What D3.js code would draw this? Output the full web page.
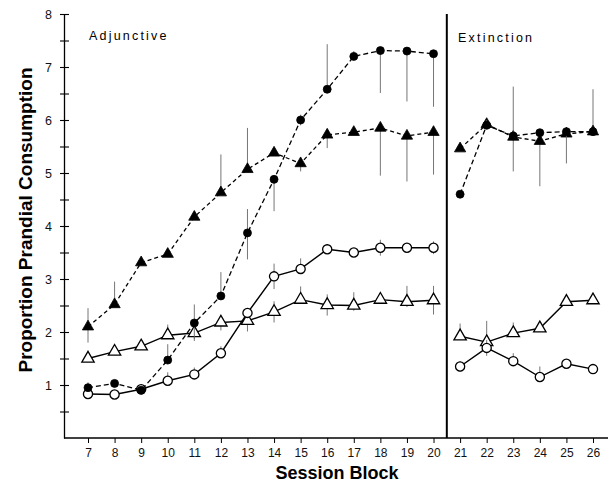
<!DOCTYPE html>
<html>
<head>
<meta charset="utf-8">
<script src="https://cdn.jsdelivr.net/npm/d3@7"></script>
<style>
  body { margin: 0; background: #fff; }
  svg { font-family: "Liberation Sans", Arial, sans-serif; }
</style>
</head>
<body>
<div class="chart"></div>
<script>
// session blocks; 7-20 adjunctive, 21-26 extinction
const blocks = [7, 8, 9, 10, 11, 12, 13, 14, 15, 16, 17, 18, 19, 20, 21, 22, 23, 24, 25, 26];
const lastAdjunctive = 20;

// filled circles (dashed)
const filledCircle = [0.95, 1.03, 0.9, 1.47, 2.17, 2.68, 3.87, 4.88, 6.0, 6.58, 7.2, 7.31, 7.3, 7.25,
                      4.6, 5.9, 5.7, 5.76, 5.78, 5.78];
const filledCircleUp = [0.1, 0.05, 0, 0.3, 0.35, 0.45, 0.45, 0, 0.1, 0.85, 0.1, 0, 0, 0,
                        0, 0.1, 0.93, 0, 0, 0];
const filledCircleDown = [0.05, 0, 0, 0, 0.3, 0, 0.5, 0.6, 0.1, 0, 0, 0.8, 0.95, 1.0,
                          0, 0, 0, 0, 0.6, 0];

// filled triangles (dashed)
const filledTriangle = [2.1, 2.52, 3.31, 3.47, 4.17, 4.63, 5.07, 5.38, 5.18, 5.72, 5.77, 5.85, 5.7, 5.77,
                        5.46, 5.92, 5.68, 5.6, 5.74, 5.78];
const filledTriangleUp = [0.35, 0.43, 0, 0.1, 0, 0.72, 0.78, 0, 0, 0, 0, 0, 0, 0,
                          0, 0.1, 0, 0, 0, 0.8];
const filledTriangleDown = [0.3, 0, 0, 0, 0, 0, 0, 0, 0.15, 0.25, 0, 0.9, 0.86, 0.8,
                            0, 0, 0.65, 0.85, 0, 0];

// open circles (solid)
const openCircle = [0.83, 0.82, 0.92, 1.08, 1.2, 1.6, 2.36, 3.05, 3.19, 3.56, 3.5, 3.59, 3.59, 3.59,
                    1.35, 1.7, 1.45, 1.15, 1.4, 1.3];
const openCircleUp = [0.07, 0.05, 0.05, 0.16, 0.13, 0.13, 0.05, 0.24, 0.2, 0.1, 0.05, 0.15, 0.05, 0.12,
                      0.1, 0.15, 0.15, 0.2, 0, 0];
const openCircleDown = [0.07, 0.05, 0.05, 0.05, 0, 0, 0, 0.24, 0, 0, 0, 0.15, 0, 0.12,
                        0.1, 0.15, 0, 0, 0, 0];

// open triangles (solid)
const openTriangle = [1.5, 1.63, 1.73, 1.94, 1.98, 2.18, 2.21, 2.38, 2.61, 2.51, 2.5, 2.61, 2.57, 2.6,
                      1.92, 1.81, 1.98, 2.07, 2.57, 2.6];
const openTriangleUp = [0.05, 0, 0, 0.2, 0, 0, 0, 0.2, 0.25, 0.2, 0.25, 0.1, 0.3, 0.27,
                        0.24, 0.4, 0.2, 0, 0, 0];
const openTriangleDown = [0.05, 0, 0, 0, 0.15, 0.15, 0.2, 0.2, 0, 0.2, 0.1, 0, 0.1, 0.27,
                          0, 0, 0, 0, 0, 0];

const yMajor = [1, 2, 3, 4, 5, 6, 7, 8];
const yMinor = [0.5, 1.5, 2.5, 3.5, 4.5, 5.5, 6.5, 7.5];

const width = 611, height = 483;

const svg = d3.select(".chart").append("svg")
    .attr("width", width)
    .attr("height", height);

const x = d3.scaleLinear().domain([7, 26]).range([88, 593]);
const y = d3.scaleLinear().domain([0, 8]).range([438, 14]);

// y axis, ticks cross the axis line
const yAxis = svg.append("g")
    .attr("transform", "translate(64,0)")
    .call(d3.axisLeft(y)
        .tickValues(yMajor.concat(yMinor))
        .tickSize(4)
        .tickSizeOuter(0)
        .tickPadding(8)
        .tickFormat(d => Number.isInteger(d) ? d : ""));
yAxis.selectAll(".tick line").attr("x2", -4).attr("x1", 5).attr("stroke-width", 1.1);
yAxis.select(".domain").attr("stroke-width", 1.3);
yAxis.selectAll("text").attr("font-size", 12.5).attr("fill", "#111");

// x axis
const xAxis = svg.append("g")
    .attr("transform", "translate(0," + y(0) + ")")
    .call(d3.axisBottom(x).tickValues(blocks).tickSize(5).tickPadding(5));
xAxis.select(".domain").remove();
xAxis.append("line")
    .attr("x1", 64).attr("x2", 608)
    .attr("stroke", "#000").attr("stroke-width", 1.3);
xAxis.selectAll("text").attr("font-size", 12).attr("fill", "#111");

// divider between phases
svg.append("line")
    .attr("x1", x(20.5)).attr("x2", x(20.5))
    .attr("y1", y(8)).attr("y2", y(0))
    .attr("stroke", "#000")
    .attr("stroke-width", 2);

svg.append("text")
    .attr("x", 89).attr("y", 40)
    .attr("font-size", 12.5)
    .attr("letter-spacing", 2.2)
    .text("Adjunctive");

svg.append("text")
    .attr("x", 458).attr("y", 42)
    .attr("font-size", 12.5)
    .attr("letter-spacing", 2.2)
    .text("Extinction");

svg.append("text")
    .attr("transform", "translate(32,220) rotate(-90)")
    .attr("text-anchor", "middle")
    .attr("font-size", 19)
    .attr("font-weight", "bold")
    .text("Proportion Prandial Consumption");

svg.append("text")
    .attr("x", 337).attr("y", 479)
    .attr("text-anchor", "middle")
    .attr("font-size", 18)
    .attr("font-weight", "bold")
    .text("Session Block");

const series = [
    {values: openTriangle, up: openTriangleUp, down: openTriangleDown, symbol: d3.symbolTriangle, size: 66, filled: false, dash: null},
    {values: openCircle, up: openCircleUp, down: openCircleDown, symbol: d3.symbolCircle, size: 66, filled: false, dash: null},
    {values: filledTriangle, up: filledTriangleUp, down: filledTriangleDown, symbol: d3.symbolTriangle, size: 55, filled: true, dash: "4,3"},
    {values: filledCircle, up: filledCircleUp, down: filledCircleDown, symbol: d3.symbolCircle, size: 50, filled: true, dash: "5,3"}
];

const line = d3.line()
    .x(d => x(d.block))
    .y(d => y(d.value));

series.forEach(s => {
    const pts = blocks.map((b, i) => ({block: b, value: s.values[i], up: s.up[i], down: s.down[i]}));
    const g = svg.append("g");

    // error bars
    g.selectAll("errbar")
        .data(pts.filter(d => d.up > 0 || d.down > 0))
        .enter()
        .append("line")
        .attr("x1", d => x(d.block))
        .attr("x2", d => x(d.block))
        .attr("y1", d => y(d.value + d.up))
        .attr("y2", d => y(d.value - d.down))
        .attr("stroke", "#666")
        .attr("stroke-width", 0.9);

    // one line per phase
    [pts.filter(d => d.block <= lastAdjunctive), pts.filter(d => d.block > lastAdjunctive)].forEach(part => {
        g.append("path")
            .datum(part)
            .attr("d", line)
            .attr("fill", "none")
            .attr("stroke", "#000")
            .attr("stroke-width", s.filled ? 1.3 : 1.4)
            .attr("stroke-dasharray", s.dash);
    });

    g.selectAll("marker")
        .data(pts)
        .enter()
        .append("path")
        .attr("transform", d => "translate(" + x(d.block) + "," + y(d.value) + ")")
        .attr("d", d3.symbol().type(s.symbol).size(s.size))
        .attr("fill", s.filled ? "#000" : "#fff")
        .attr("stroke", "#000")
        .attr("stroke-width", s.filled ? 0.8 : 1.3);
});
</script>
</body>
</html>
